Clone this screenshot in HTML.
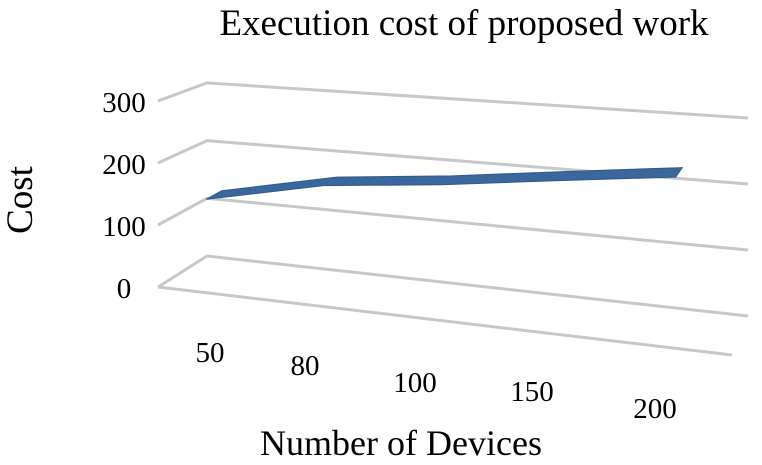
<!DOCTYPE html>
<html><head><meta charset="utf-8"><style>
body{margin:0;background:#fff}
svg{display:block;font-family:"Liberation Serif",serif}
</style></head><body>
<svg width="762" height="465" xmlns="http://www.w3.org/2000/svg">
<text x="464" y="35" font-size="37" text-anchor="middle">Execution cost of proposed work</text>
<text transform="translate(32,200) rotate(-90)" font-size="37" text-anchor="middle">Cost</text>
<text x="401" y="455" font-size="36" text-anchor="middle">Number of Devices</text>
<g id="grid"></g><g id="series"></g><g id="labels"></g>
</svg>
<script>
const categories=["50","80","100","150","200"];
const costValues=[132,172,190,212,232];
const yTicks=[0,100,200,300];
const NS="http://www.w3.org/2000/svg";
function proj(f,z,v){
  const fl=[158,287,0.62], fr=[732,355,0.70], bl=[207,256,0.577], br=[748,316,0.66];
  const L=[fl[0]+(bl[0]-fl[0])*z, fl[1]+(bl[1]-fl[1])*z, fl[2]+(bl[2]-fl[2])*z];
  const R=[fr[0]+(br[0]-fr[0])*z, fr[1]+(br[1]-fr[1])*z, fr[2]+(br[2]-fr[2])*z];
  const x=L[0]+(R[0]-L[0])*f, y0=L[1]+(R[1]-L[1])*f, s=L[2]+(R[2]-L[2])*f;
  return [x,y0-v*s];
}
function mk(tag,attrs,parent){const e=document.createElementNS(NS,tag);for(const k in attrs)e.setAttribute(k,attrs[k]);document.getElementById(parent).appendChild(e);return e;}
yTicks.forEach(t=>{
  const a=proj(0,0,t),b=proj(0,1,t),c=proj(1,1,t);
  const p=mk("polyline",{points:[a,b,c].map(p=>p.join(",")).join(" "),fill:"none",stroke:"#c8c8c8","stroke-width":"3"},"grid");
  
  
  const lab=mk("text",{x:124,y:a[1]+11,"font-size":"29","text-anchor":"middle"},"labels");
  lab.textContent=t;
  
  
});
const fa=proj(0,0,0),fb=proj(1,0,0);
const floor=mk("line",{x1:fa[0],y1:fa[1],x2:fb[0],y2:fb[1],stroke:"#c8c8c8","stroke-width":"3"},"grid");


function frac(i){return 0.055+i*(0.835/(categories.length-1));}
const front=[],back=[];
costValues.forEach((v,i)=>{front.push(proj(frac(i),0.35,v));back.push(proj(frac(i),0.68,v));});
const pts=front.concat(back.slice().reverse());
const rib=mk("polygon",{points:pts.map(p=>p.join(",")).join(" "),fill:"#3a679c",stroke:"#2f5a8c","stroke-width":"1"},"series");


const labPos=[[210,362],[305,375],[415,392],[532,401],[655,418]];
categories.forEach((c,i)=>{
  const t=mk("text",{x:labPos[i][0],y:labPos[i][1],"font-size":"29","text-anchor":"middle"},"labels");
  t.textContent=c;
  
  
});
</script>
</body></html>
